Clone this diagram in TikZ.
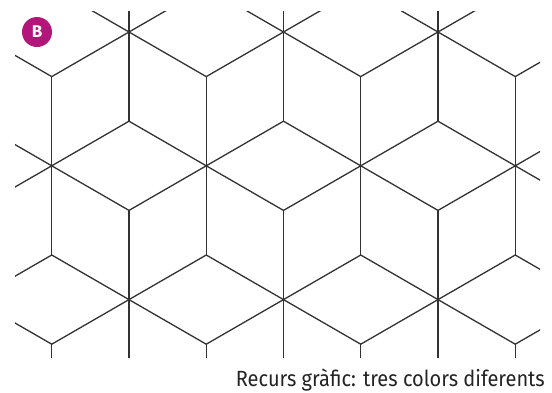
\documentclass[tikz,border=0pt]{standalone}
\usepackage{fontspec}
\setmainfont{Fira Sans}
\definecolor{badgemag}{RGB}{178,22,122}
\definecolor{tileline}{RGB}{50,50,50}
\definecolor{captext}{RGB}{35,35,35}
\tikzset{
  tile/.style={draw=tileline, line width=1.3pt},
  badge/.style={circle, fill=badgemag, minimum size=30pt, inner sep=0pt, text=white, font=\bfseries\fontsize{17}{17}\selectfont},
  caption/.style={anchor=base east, text=captext, inner sep=0pt, font=\fontsize{22}{22}\selectfont}
}
\begin{document}
\begin{tikzpicture}[x=1pt,y=-1pt]
\useasboundingbox (0,0) rectangle (552,392);
\begin{scope}
\clip (15,11) rectangle (540,357);
\foreach \yy/\xo in {-101.8/51.75, 32/129, 165.8/51.75, 299.6/129, 433.4/51.75} {
  \foreach \k in {-1,...,3} {
    \pgfmathsetmacro\xx{\xo+154.5*\k}
    \foreach \a in {30,90,...,330} {
      \draw[tile] (\xx,\yy) -- ++(\a:89.2);
    }
  }
}
\end{scope}
\node[badge] (b) at (37,32) {B};
\node[caption] (cap) at (545,386.5) {\scalebox{0.91}[1]{Recurs gràfic: tres colors diferents}};
\end{tikzpicture}
\end{document}
